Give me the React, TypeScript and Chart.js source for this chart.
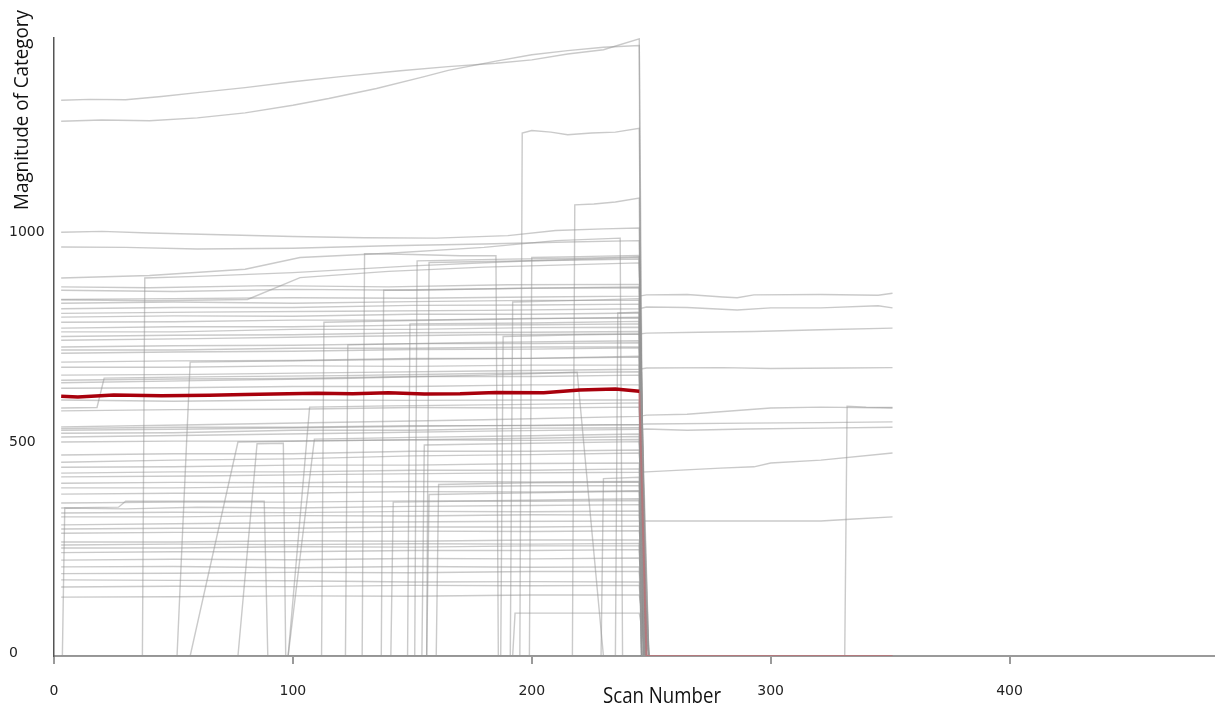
import React, { useEffect, useRef } from 'react';
import { Chart, registerables } from 'chart.js';

Chart.register(...registerables);

type Pt = [number, number];

const xTitle = 'Scan Number';
const yTitle = 'Magnitude of Category';
const xTickValues = [0, 100, 200, 300, 400];
const yTickValues = [0, 500, 1000];

// highlighted series (dark red), and its tail after the drop (pink)
const highlightedLine: Pt[] = [
  [3, 618], [10, 616], [25, 621], [45, 619], [65, 620], [80, 622], [110, 625], [125, 624],
  [140, 626], [155, 623], [170, 624], [185, 627], [205, 626], [220, 633], [235, 635], [245, 630],
];
const highlightedTail: Pt[] = [[245, 630], [248, 0], [351, 0]];

const topLines: Pt[][] = [
  [[3, 1322], [15, 1324], [30, 1323], [45, 1331], [60, 1340], [80, 1352], [100, 1366], [120, 1378], [145, 1392], [165, 1402], [185, 1410], [200, 1418], [215, 1432], [230, 1442], [245, 1468], [246, 0], [351, 0]],
  [[3, 1272], [20, 1275], [40, 1273], [60, 1280], [80, 1292], [100, 1310], [115, 1326], [135, 1350], [155, 1378], [165, 1393], [185, 1415], [200, 1430], [215, 1440], [230, 1448], [245, 1452], [247, 0], [351, 0]],
  [[3, 0], [195, 0], [196, 1244], [200, 1250], [208, 1246], [215, 1240], [225, 1244], [235, 1246], [245, 1255], [247, 0], [351, 0]],
  [[3, 0], [217, 0], [218, 1073], [226, 1075], [235, 1080], [245, 1089], [247, 0], [351, 0]],
  [[3, 1008], [20, 1010], [40, 1006], [70, 1002], [100, 998], [130, 995], [160, 994], [190, 1000], [210, 1012], [230, 1016], [245, 1018], [247, 0], [351, 0]],
  [[3, 973], [30, 972], [60, 968], [100, 970], [140, 976], [180, 980], [210, 984], [245, 988], [248, 0], [351, 0]],
];

const middleLines: Pt[][] = [
  [[3, 878], [40, 876], [90, 881], [140, 878], [190, 883], [245, 884], [246, 0], [351, 0]],
  [[3, 870], [50, 867], [100, 872], [150, 870], [200, 875], [245, 876], [248, 0], [351, 0]],
  [[3, 839], [50, 842], [100, 839], [150, 843], [200, 846], [245, 846], [247, 0], [351, 0]],
  [[3, 826], [50, 829], [100, 829], [150, 834], [200, 835], [245, 837], [247, 0], [351, 0]],
  [[3, 806], [50, 809], [100, 808], [150, 813], [200, 813], [245, 816], [249, 0], [351, 0]],
  [[3, 794], [50, 795], [100, 799], [150, 799], [200, 803], [245, 804], [246, 0], [351, 0]],
  [[3, 780], [50, 783], [100, 783], [150, 787], [200, 788], [245, 790], [248, 0], [351, 0]],
  [[3, 771], [50, 771], [100, 777], [150, 777], [200, 781], [245, 782], [247, 0], [351, 0]],
  [[3, 760], [50, 763], [100, 764], [150, 769], [200, 770], [245, 772], [248, 0], [351, 0]],
  [[3, 735], [50, 738], [100, 739], [150, 743], [200, 743], [245, 745], [249, 0], [351, 0]],
  [[3, 728], [50, 728], [100, 732], [150, 732], [200, 735], [245, 735], [246, 0], [351, 0]],
  [[3, 720], [50, 723], [100, 725], [150, 729], [200, 730], [245, 733], [246, 0], [351, 0]],
  [[3, 699], [50, 702], [100, 703], [150, 708], [200, 708], [245, 711], [248, 0], [351, 0]],
  [[3, 687], [50, 687], [100, 690], [150, 689], [200, 692], [245, 692], [247, 0], [351, 0]],
  [[3, 656], [50, 659], [100, 660], [150, 665], [200, 665], [245, 668], [249, 0], [351, 0]],
  [[3, 637], [50, 638], [100, 641], [150, 641], [200, 645], [245, 645], [246, 0], [351, 0]],
  [[3, 609], [50, 606], [100, 609], [150, 608], [200, 609], [245, 609], [248, 0], [351, 0]],
  [[3, 583], [50, 586], [100, 587], [150, 591], [200, 590], [245, 592], [247, 0], [351, 0]],
  [[3, 541], [50, 544], [100, 544], [150, 548], [200, 548], [245, 550], [247, 0], [351, 0]],
  [[3, 530], [50, 531], [100, 537], [150, 537], [200, 542], [245, 543], [248, 0], [351, 0]],
  [[3, 509], [50, 511], [100, 511], [150, 514], [200, 513], [245, 515], [247, 0], [351, 0]],
  [[3, 478], [50, 481], [100, 481], [150, 487], [200, 487], [245, 490], [249, 0], [351, 0]],
  [[3, 461], [50, 466], [100, 469], [150, 476], [200, 479], [245, 483], [249, 0], [351, 0]],
  [[3, 449], [50, 450], [100, 454], [150, 454], [200, 458], [245, 459], [246, 0], [351, 0]],
  [[3, 435], [50, 438], [100, 438], [150, 442], [200, 442], [245, 445], [248, 0], [351, 0]],
  [[3, 411], [50, 413], [100, 412], [150, 415], [200, 414], [245, 415], [247, 0], [351, 0]],
  [[3, 400], [50, 400], [100, 403], [150, 402], [200, 405], [245, 405], [249, 0], [351, 0]],
  [[3, 385], [50, 387], [100, 387], [150, 391], [200, 390], [245, 393], [246, 0], [351, 0]],
  [[3, 364], [50, 366], [100, 366], [150, 369], [200, 368], [245, 370], [246, 0], [351, 0]],
  [[3, 340], [50, 342], [100, 341], [150, 344], [200, 343], [245, 345], [248, 0], [351, 0]],
  [[3, 331], [50, 331], [100, 334], [150, 333], [200, 336], [245, 335], [247, 0], [351, 0]],
  [[3, 302], [50, 304], [100, 304], [150, 307], [200, 307], [245, 309], [248, 0], [351, 0]],
  [[3, 292], [50, 294], [100, 294], [150, 297], [200, 296], [245, 298], [249, 0], [351, 0]],
  [[3, 271], [50, 271], [100, 274], [150, 273], [200, 276], [245, 276], [246, 0], [351, 0]],
  [[3, 264], [50, 266], [100, 265], [150, 267], [200, 266], [245, 268], [248, 0], [351, 0]],
  [[3, 257], [50, 257], [100, 260], [150, 259], [200, 262], [245, 262], [247, 0], [351, 0]],
  [[3, 246], [50, 248], [100, 248], [150, 251], [200, 251], [245, 253], [247, 0], [351, 0]],
  [[3, 228], [50, 230], [100, 229], [150, 232], [200, 231], [245, 233], [249, 0], [351, 0]],
  [[3, 212], [50, 213], [100, 210], [150, 213], [200, 211], [245, 212], [246, 0], [351, 0]],
  [[3, 196], [50, 197], [100, 199], [150, 198], [200, 201], [245, 201], [249, 0], [351, 0]],
  [[3, 181], [50, 180], [100, 179], [150, 176], [200, 177], [245, 176], [248, 0], [351, 0]],
  [[3, 164], [50, 166], [100, 165], [150, 168], [200, 167], [245, 168], [247, 0], [351, 0]],
  [[3, 140], [50, 141], [100, 143], [150, 142], [200, 145], [245, 145], [249, 0], [351, 0]],
  [[3, 590], [18, 591], [21, 661], [60, 664], [120, 667], [180, 672], [245, 676], [247, 0], [351, 0]],
];

const jumpLines: Pt[][] = [
  [[3, 0], [3.5, 0], [4.5, 352], [30, 350], [60, 354], [100, 352], [150, 356], [200, 358], [245, 360], [247, 0], [351, 0]],
  [[3, 0], [37, 0], [38, 899], [60, 903], [100, 912], [150, 928], [200, 940], [245, 948], [248, 0], [351, 0]],
  [[3, 0], [51.5, 0], [57, 699], [100, 702], [150, 706], [200, 708], [245, 713], [247, 0], [351, 0]],
  [[3, 0], [57, 0], [77, 509], [110, 512], [160, 515], [200, 518], [245, 522], [248, 0], [351, 0]],
  [[3, 0], [77, 0], [85, 505], [96, 506], [97, 0], [98, 0], [107, 592], [140, 595], [190, 598], [245, 602], [247, 0], [351, 0]],
  [[3, 352], [27, 354], [30, 368], [88, 368], [89.5, 0], [98, 0], [109, 516], [150, 520], [200, 524], [245, 528], [248, 0], [351, 0]],
  [[3, 0], [112, 0], [113, 794], [150, 798], [200, 802], [245, 806], [247, 0], [351, 0]],
  [[3, 0], [129, 0], [130, 957], [150, 955], [170, 952], [185, 952], [186, 0], [351, 0]],
  [[3, 0], [151, 0], [152, 940], [190, 944], [220, 946], [245, 950], [247, 0], [351, 0]],
  [[3, 0], [156, 0], [157, 936], [200, 940], [245, 944], [248, 0], [351, 0]],
  [[3, 0], [141, 0], [142, 366], [190, 370], [245, 374], [247, 0], [351, 0]],
  [[3, 0], [154, 0], [155, 502], [200, 506], [245, 510], [248, 0], [351, 0]],
  [[3, 0], [156, 0], [157, 384], [200, 388], [245, 392], [247, 0], [351, 0]],
  [[3, 0], [160, 0], [161, 408], [200, 412], [245, 414], [248, 0], [351, 0]],
  [[3, 0], [191, 0], [192, 842], [220, 846], [245, 850], [247, 0], [351, 0]],
  [[3, 0], [199, 0], [200, 948], [220, 950], [245, 953], [248, 0], [351, 0]],
  [[3, 899], [40, 905], [80, 920], [103, 948], [140, 958], [180, 972], [210, 988], [237, 994], [238, 0], [351, 0]],
  [[3, 650], [60, 655], [120, 660], [180, 668], [219, 675], [230, 0], [351, 0]],
  [[3, 0], [229, 0], [230, 422], [245, 425], [248, 0], [351, 0]],
  [[3, 0], [235, 0], [236, 816], [245, 818], [247, 0], [351, 0]],
  [[3, 0], [122, 0], [123, 740], [170, 745], [245, 750], [248, 0], [351, 0]],
  [[3, 0], [187, 0], [188, 760], [220, 764], [245, 766], [247, 0], [351, 0]],
  [[3, 0], [192, 0], [193, 102], [220, 102], [245, 102], [248, 0], [351, 0]],
  [[3, 847], [40, 845], [81, 848], [103, 900], [140, 915], [180, 925], [245, 935], [247, 0], [351, 0]],
  [[3, 0], [137, 0], [138, 870], [190, 874], [245, 878], [248, 0], [351, 0]],
  [[3, 0], [148, 0], [149, 790], [200, 792], [245, 796], [247, 0], [351, 0]],
];

const continuingLines: Pt[][] = [
  [[3, 848], [50, 850], [100, 852], [150, 851], [200, 854], [245, 856], [248, 859], [265, 860], [280, 854], [286, 852], [293, 859], [321, 860], [345, 858], [351, 863]],
  [[3, 815], [60, 818], [120, 820], [180, 822], [245, 826], [248, 830], [265, 829], [286, 823], [300, 828], [321, 828], [345, 833], [351, 828]],
  [[3, 751], [60, 755], [120, 760], [180, 764], [245, 766], [248, 768], [270, 770], [293, 772], [321, 776], [351, 780]],
  [[3, 668], [60, 670], [120, 674], [180, 678], [245, 682], [248, 685], [280, 686], [300, 684], [330, 685], [351, 686]],
  [[3, 545], [60, 550], [120, 556], [180, 562], [245, 570], [248, 573], [265, 575], [300, 590], [321, 592], [351, 590]],
  [[3, 537], [60, 540], [120, 544], [180, 548], [245, 551], [248, 552], [290, 554], [321, 555], [351, 557]],
  [[3, 521], [60, 525], [120, 530], [180, 535], [245, 539], [248, 540], [265, 537], [290, 540], [321, 542], [351, 544]],
  [[3, 426], [60, 428], [120, 432], [180, 435], [245, 437], [248, 438], [279, 447], [293, 450], [300, 459], [321, 466], [351, 483]],
  [[3, 312], [60, 315], [120, 318], [180, 320], [245, 321], [248, 321], [321, 321], [335, 326], [351, 331]],
  [[3, 0], [331, 0], [332, 594], [340, 592], [351, 591]],
];

const GRAY = 'rgba(150,150,150,0.5)';

const toXY = (pts: Pt[]) => pts.map(([x, y]) => ({ x, y }));

const titlePlugin = {
  id: 'customAxisTitles',
  afterDraw(chart: any) {
    const ctx = chart.ctx as CanvasRenderingContext2D;
    ctx.save();
    ctx.fillStyle = '#111';
    ctx.textBaseline = 'alphabetic';
    ctx.textAlign = 'left';
    ctx.font = '21px "Open Sans", "Liberation Sans", sans-serif';
    const xw = ctx.measureText(xTitle).width;
    ctx.translate(603, 703);
    ctx.scale(118 / xw, 1);
    ctx.fillText(xTitle, 0, 0);
    ctx.restore();

    ctx.save();
    ctx.fillStyle = '#111';
    ctx.textBaseline = 'alphabetic';
    ctx.textAlign = 'left';
    ctx.font = '20px "Open Sans", "Liberation Sans", sans-serif';
    const yw = ctx.measureText(yTitle).width;
    ctx.translate(28, 210);
    ctx.rotate(-Math.PI / 2);
    ctx.scale(200 / yw, 1);
    ctx.fillText(yTitle, 0, 0);
    ctx.restore();
  },
};

export default function App() {
  const ref = useRef<HTMLCanvasElement | null>(null);

  useEffect(() => {
    if (!ref.current) return;
    const grayGroups = [...topLines, ...middleLines, ...jumpLines, ...continuingLines];
    const datasets: any[] = grayGroups.map((pts) => ({
      data: toXY(pts),
      borderColor: GRAY,
      borderWidth: 1.4,
      pointRadius: 0,
      fill: false,
      tension: 0,
      order: 2,
    }));
    datasets.push({
      data: toXY(highlightedTail),
      borderColor: 'rgba(225,80,90,0.4)',
      borderWidth: 2,
      pointRadius: 0,
      fill: false,
      order: 1,
    });
    datasets.push({
      data: toXY(highlightedLine),
      borderColor: '#a8000c',
      borderWidth: 3.5,
      pointRadius: 0,
      fill: false,
      order: 0,
    });

    const chart = new Chart(ref.current, {
      type: 'line',
      data: { datasets },
      options: {
        responsive: false,
        animation: false,
        devicePixelRatio: 1,
        parsing: false,
        normalized: true,
        layout: { padding: { top: 38, left: 9, right: 0, bottom: 0 } },
        plugins: { legend: { display: false }, tooltip: { enabled: false }, title: { display: false } },
        scales: {
          x: {
            type: 'linear',
            min: 0,
            max: 486,
            afterBuildTicks: (scale: any) => {
              scale.ticks = xTickValues.map((v) => ({ value: v }));
            },
            afterFit: (scale: any) => {
              scale.height = 53;
            },
            grid: { display: true, drawOnChartArea: false, drawTicks: true, tickLength: 8, color: '#9a9a9a', lineWidth: 2 },
            border: { display: true, color: '#9a9a9a', width: 2 },
            ticks: {
              padding: 19,
              maxRotation: 0,
              autoSkip: false,
              color: '#222',
              callback: (v: any) => String(v),
              font: { family: '"DejaVu Sans", Verdana, sans-serif', size: 14 },
            },
            title: { display: false },
          },
          y: {
            type: 'linear',
            min: 0,
            max: 1470,
            afterBuildTicks: (scale: any) => {
              scale.ticks = yTickValues.map((v) => ({ value: v }));
            },
            afterFit: (scale: any) => {
              scale.width = 45;
            },
            grid: { display: false },
            border: { display: true, color: '#555', width: 1.5 },
            ticks: {
              padding: 9,
              crossAlign: 'far',
              labelOffset: -3,
              autoSkip: false,
              color: '#222',
              callback: (v: any) => String(v),
              font: { family: '"DejaVu Sans", Verdana, sans-serif', size: 14 },
            },
            title: { display: false },
          },
        },
      },
      plugins: [titlePlugin],
    } as any);

    return () => chart.destroy();
  }, []);

  return (
    <div style={{ position: 'fixed', left: 0, top: 0, width: 1215, height: 709, background: '#fff' }}>
      <canvas ref={ref} width={1215} height={709} style={{ display: 'block', width: 1215, height: 709 }} />
    </div>
  );
}
